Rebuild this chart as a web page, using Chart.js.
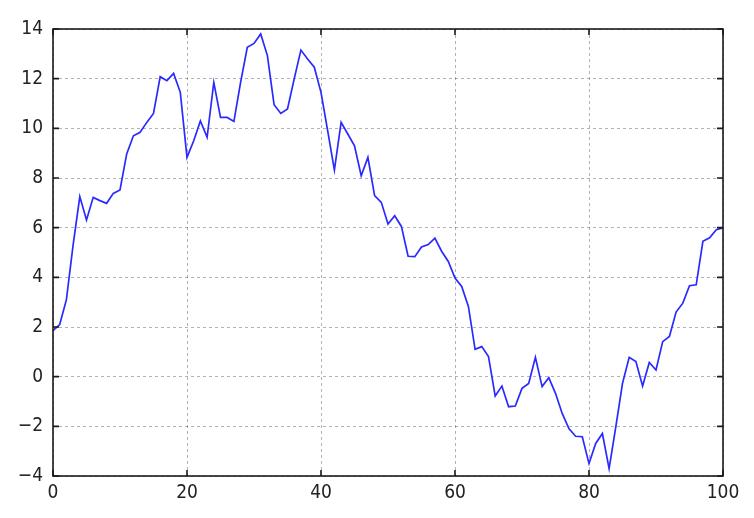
<!DOCTYPE html>
<html>
<head>
<meta charset="utf-8">
<script src="https://cdn.jsdelivr.net/npm/chart.js@4.4.1/dist/chart.umd.min.js"></script>
<style>
  html, body { margin: 0; padding: 0; background: #fff; }
  #wrap { width: 754px; height: 518px; }
</style>
</head>
<body>
<div id="wrap"><canvas id="walk" width="754" height="518"></canvas></div>
<script>
// step index along the x axis
const steps = [
    0, 1, 2, 3, 4, 5, 6, 7, 8, 9,
    10, 11, 12, 13, 14, 15, 16, 17, 18, 19,
    20, 21, 22, 23, 24, 25, 26, 27, 28, 29,
    30, 31, 32, 33, 34, 35, 36, 37, 38, 39,
    40, 41, 42, 43, 44, 45, 46, 47, 48, 49,
    50, 51, 52, 53, 54, 55, 56, 57, 58, 59,
    60, 61, 62, 63, 64, 65, 66, 67, 68, 69,
    70, 71, 72, 73, 74, 75, 76, 77, 78, 79,
    80, 81, 82, 83, 84, 85, 86, 87, 88, 89,
    90, 91, 92, 93, 94, 95, 96, 97, 98, 99,
    100
];

// values
const values = [
    1.85, 2.1, 3.1, 5.3, 7.25, 6.31, 7.22, 7.09, 6.98, 7.38,
    7.52, 8.97, 9.7, 9.84, 10.24, 10.6, 12.08, 11.92, 12.21, 11.45,
    8.83, 9.5, 10.3, 9.64, 11.85, 10.44, 10.44, 10.28, 11.85, 13.26,
    13.42, 13.8, 12.93, 10.95, 10.6, 10.78, 11.99, 13.15, 12.79, 12.46,
    11.45, 9.9, 8.32, 10.24, 9.77, 9.3, 8.09, 8.83, 7.29, 7.02,
    6.15, 6.48, 6.05, 4.85, 4.83, 5.22, 5.32, 5.58, 5.05, 4.64,
    3.97, 3.63, 2.83, 1.1, 1.21, 0.81, -0.78, -0.38, -1.21, -1.18,
    -0.47, -0.27, 0.78, -0.4, -0.04, -0.67, -1.48, -2.09, -2.4, -2.42,
    -3.5, -2.69, -2.29, -3.7, -2.02, -0.27, 0.78, 0.61, -0.38, 0.57,
    0.27, 1.41, 1.62, 2.6, 2.96, 3.66, 3.7, 5.45, 5.59, 5.92,
    5.99
];

const xTicks = [0, 20, 40, 60, 80, 100];
const yTicks = [-4, -2, 0, 2, 4, 6, 8, 10, 12, 14];

const tickFont = { family: "'DejaVu Sans Condensed', 'DejaVu Sans', sans-serif", size: 19 };
const minus = (v) => String(v).replace('-', '\u2212');

// box round the plot with inward ticks on all four sides
const frame = {
    id: 'frame',
    afterDraw(chart) {
        const ctx = chart.ctx;
        const a = chart.chartArea;
        const x = chart.scales.x;
        const y = chart.scales.y;
        ctx.save();
        ctx.strokeStyle = '#1a1a1a';
        ctx.lineWidth = 1.6;
        ctx.beginPath();
        xTicks.forEach((v) => {
            const px = x.getPixelForValue(v);
            ctx.moveTo(px, a.bottom);
            ctx.lineTo(px, a.bottom - 6);
            ctx.moveTo(px, a.top);
            ctx.lineTo(px, a.top + 6);
        });
        yTicks.forEach((v) => {
            const py = y.getPixelForValue(v);
            ctx.moveTo(a.left, py);
            ctx.lineTo(a.left + 6, py);
            ctx.moveTo(a.right, py);
            ctx.lineTo(a.right - 6, py);
        });
        ctx.stroke();
        ctx.strokeRect(a.left, a.top, a.right - a.left, a.bottom - a.top);
        ctx.restore();
    }
};

new Chart(document.getElementById('walk'), {
    type: 'line',
    data: {
        datasets: [{
            data: steps.map((s, i) => ({ x: s, y: values[i] })),
            borderColor: '#2a2aff',
            borderWidth: 1.7,
            pointRadius: 0,
            tension: 0,
            fill: false
        }]
    },
    options: {
        responsive: false,
        animation: false,
        layout: { padding: { top: 29, right: 31, left: 0, bottom: 0 } },
        plugins: { legend: { display: false }, tooltip: { enabled: false } },
        scales: {
            x: {
                type: 'linear',
                min: 0,
                max: 100,
                afterBuildTicks: (scale) => { scale.ticks = xTicks.map((v) => ({ value: v })); },
                afterFit: (scale) => { scale.height = 42; },
                grid: { color: 'rgba(0,0,0,0.3)', lineWidth: 1, drawTicks: false },
                border: { display: false, dash: [3, 3] },
                ticks: { color: '#222', font: tickFont, padding: 6, maxRotation: 0, callback: minus }
            },
            y: {
                min: -4,
                max: 14,
                afterBuildTicks: (scale) => { scale.ticks = yTicks.map((v) => ({ value: v })); },
                afterFit: (scale) => { scale.width = 53; },
                grid: { color: 'rgba(0,0,0,0.3)', lineWidth: 1, drawTicks: false },
                border: { display: false, dash: [3, 3] },
                ticks: { color: '#222', font: tickFont, padding: 10, callback: minus }
            }
        }
    },
    plugins: [frame]
});
</script>
</body>
</html>
